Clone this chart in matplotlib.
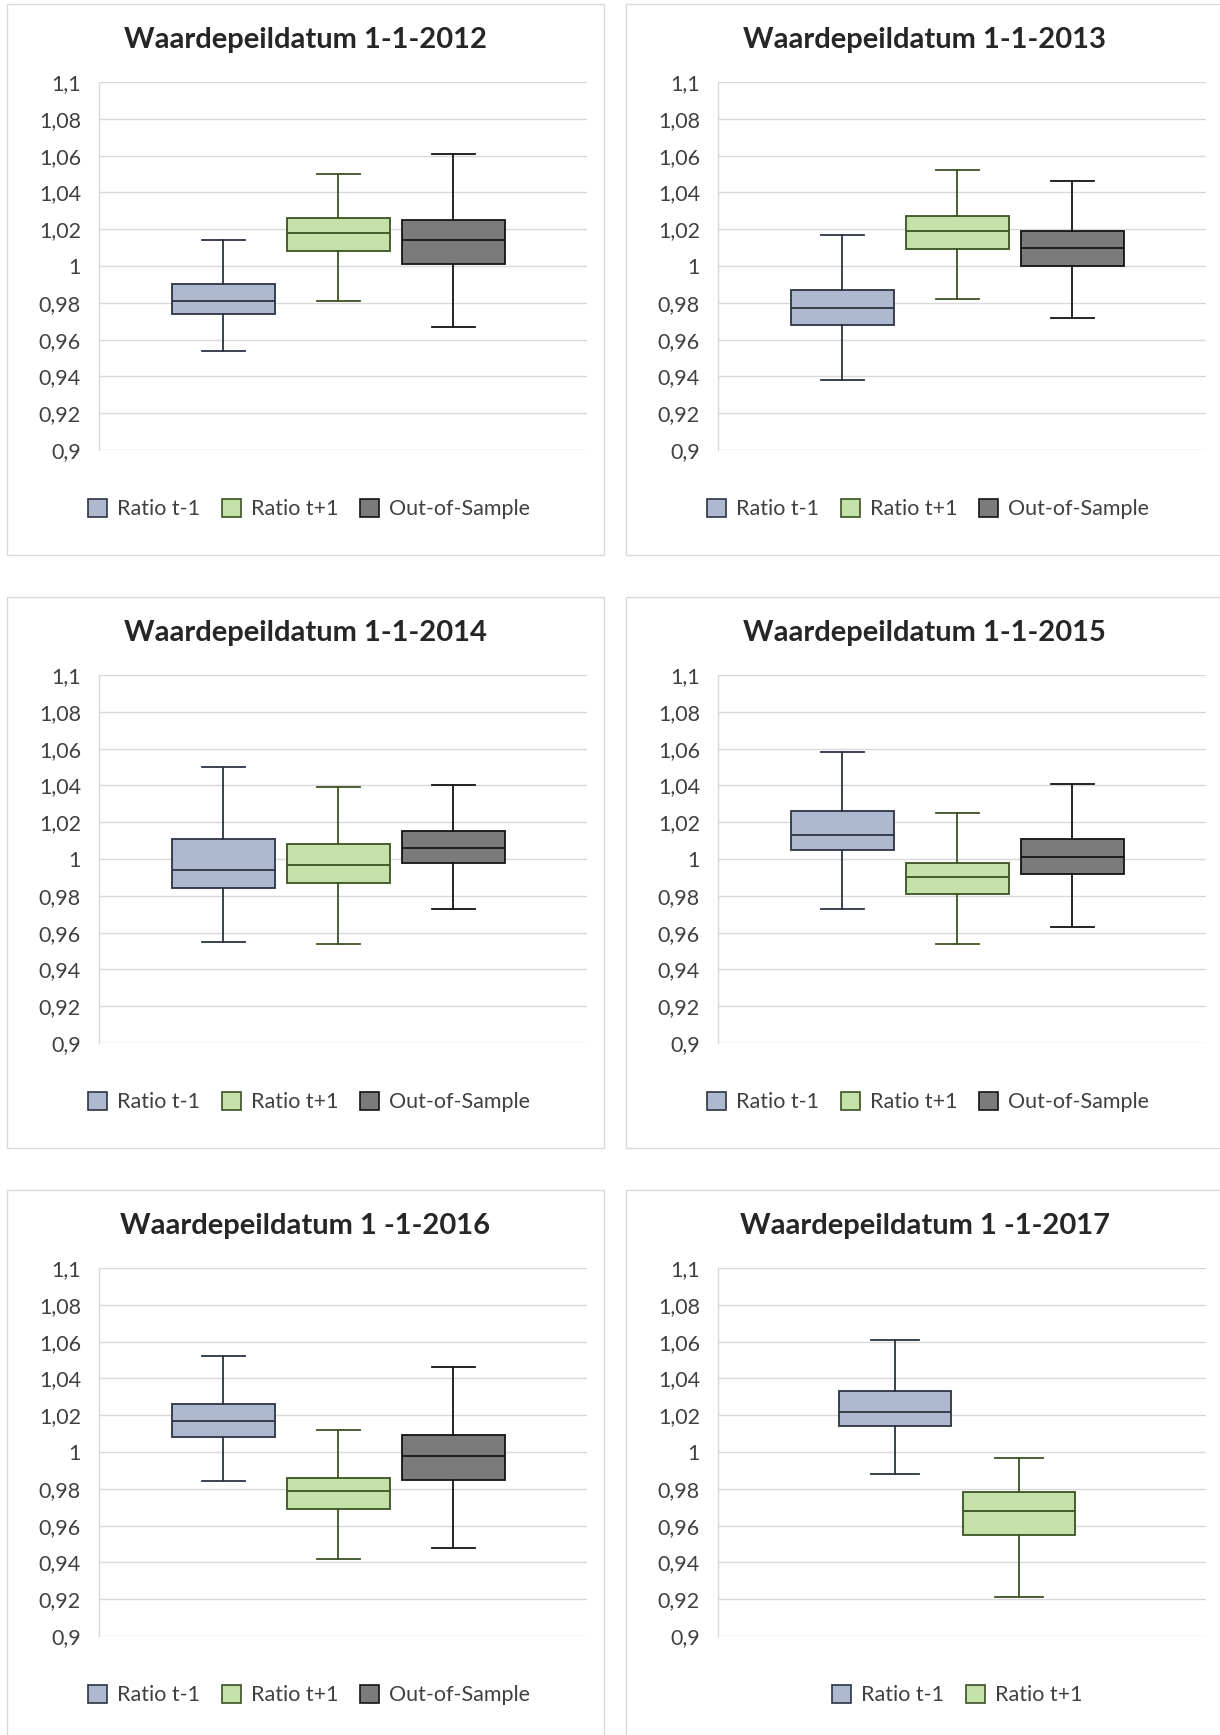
import matplotlib.pyplot as plt
from matplotlib.patches import Patch, Rectangle

W, H = 1220, 1735
plt.rcParams["font.family"] = ["Lato", "DejaVu Sans"]

TITLES = [
    "Waardepeildatum 1-1-2012",
    "Waardepeildatum 1-1-2013",
    "Waardepeildatum 1-1-2014",
    "Waardepeildatum 1-1-2015",
    "Waardepeildatum 1 -1-2016",
    "Waardepeildatum 1 -1-2017",
]
SERIES = ["Ratio t-1", "Ratio t+1", "Out-of-Sample"]

# (whislo, q1, median, q3, whishi) per panel
RATIO_PREV = [
    (0.954, 0.974, 0.981, 0.990, 1.014),
    (0.938, 0.968, 0.977, 0.987, 1.017),
    (0.955, 0.984, 0.994, 1.011, 1.050),
    (0.973, 1.005, 1.013, 1.026, 1.058),
    (0.984, 1.008, 1.017, 1.026, 1.052),
    (0.988, 1.014, 1.022, 1.033, 1.061),
]
RATIO_NEXT = [
    (0.981, 1.008, 1.018, 1.026, 1.050),
    (0.982, 1.009, 1.019, 1.027, 1.052),
    (0.954, 0.987, 0.997, 1.008, 1.039),
    (0.954, 0.981, 0.990, 0.998, 1.025),
    (0.942, 0.969, 0.979, 0.986, 1.012),
    (0.921, 0.955, 0.968, 0.978, 0.997),
]
OUT_OF_SAMPLE = [
    (0.967, 1.001, 1.014, 1.025, 1.061),
    (0.972, 1.000, 1.010, 1.019, 1.046),
    (0.973, 0.998, 1.006, 1.015, 1.040),
    (0.963, 0.992, 1.001, 1.011, 1.041),
    (0.948, 0.985, 0.998, 1.009, 1.046),
    None,
]

Y_TICKS = [0.9, 0.92, 0.94, 0.96, 0.98, 1.0, 1.02, 1.04, 1.06, 1.08, 1.1]
Y_LABELS = ["0,9", "0,92", "0,94", "0,96", "0,98", "1", "1,02", "1,04", "1,06", "1,08", "1,1"]

FILLS = ["#aeb9cf", "#c4e1aa", "#7b7b7b"]
EDGES = ["#2c3442", "#3b5222", "#141414"]

# panel frames in pixels (x0, y0 from top)
COL_X = [7, 626]
ROW_Y = [4, 597, 1190]
PANEL_W, PANEL_H = 597, 551


def px_box(x, y_top, w, h):
    return [x / W, 1 - (y_top + h) / H, w / W, h / H]


fig = plt.figure(figsize=(W / 100, H / 100), dpi=100)
fig.patch.set_facecolor("white")

for i, title in enumerate(TITLES):
    r, c = divmod(i, 2)
    x0, y0 = COL_X[c], ROW_Y[r]

    frame = Rectangle((x0 / W, 1 - (y0 + PANEL_H) / H), PANEL_W / W, PANEL_H / H,
                      transform=fig.transFigure, facecolor="none",
                      edgecolor="#d9d9d9", lw=1.0, zorder=-1)
    fig.patches.append(frame)

    fig.text((x0 + PANEL_W / 2) / W, 1 - (y0 + 36) / H, title,
             ha="center", va="center", fontsize=21, fontweight="bold",
             color="#262626")

    ax = fig.add_axes(px_box(x0 + 92, y0 + 78, 488, 368))
    ax.set_facecolor("none")

    stats_src = [RATIO_PREV[i], RATIO_NEXT[i], OUT_OF_SAMPLE[i]]
    present = [k for k, s in enumerate(stats_src) if s is not None]
    n = len(present)
    spacing_px = 115 if n == 3 else 124
    positions = [j - (n - 1) / 2 for j in range(n)]
    half = 244 / spacing_px

    for j, k in enumerate(present):
        lo, q1, med, q3, hi = stats_src[k]
        st = dict(whislo=lo, q1=q1, med=med, q3=q3, whishi=hi, fliers=[])
        ax.bxp([st], positions=[positions[j]], widths=0.9, capwidths=0.38,
               showfliers=False, patch_artist=True,
               boxprops=dict(facecolor=FILLS[k], edgecolor=EDGES[k], lw=1.3),
               medianprops=dict(color=EDGES[k], lw=1.3),
               whiskerprops=dict(color=EDGES[k], lw=1.3),
               capprops=dict(color=EDGES[k], lw=1.3),
               manage_ticks=False, zorder=3)

    ax.set_xlim(-half + 0.04, half + 0.04)
    ax.set_ylim(0.9, 1.1)
    ax.set_yticks(Y_TICKS)
    ax.set_yticklabels(Y_LABELS)
    ax.set_xticks([])
    ax.tick_params(axis="y", length=0, pad=13, labelsize=15.5, labelcolor="#404040")
    ax.grid(axis="y", color="#d9d9d9", lw=1.0, zorder=0)
    ax.set_axisbelow(True)
    for side in ("top", "right", "bottom"):
        ax.spines[side].set_visible(False)
    ax.spines["left"].set_color("#d9d9d9")
    ax.spines["left"].set_linewidth(1.0)

    handles = [Patch(facecolor=FILLS[k], edgecolor=EDGES[k], lw=1.2, label=SERIES[k])
               for k in present]
    ax.legend(handles=handles, loc="center",
              bbox_to_anchor=(0.43 if n == 3 else 0.49, -0.16),
              ncol=n, frameon=False, fontsize=15.5, labelcolor="#404040",
              handlelength=0.9, handleheight=0.9, handletextpad=0.45,
              columnspacing=1.0)

fig.savefig("out.png", dpi=100, facecolor="white")
